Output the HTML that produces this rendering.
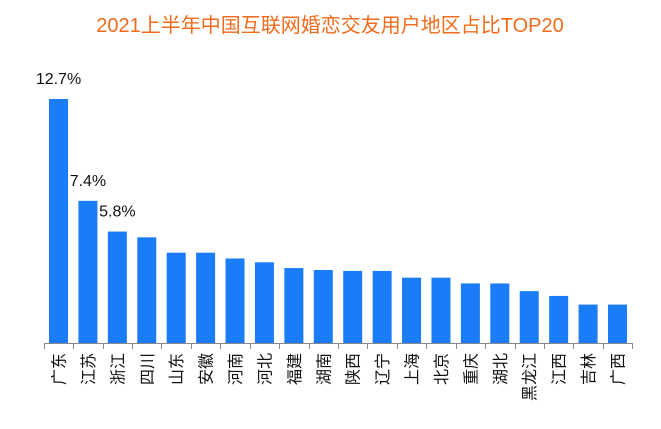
<!DOCTYPE html>
<html><head><meta charset="utf-8">
<style>
html,body{margin:0;padding:0;background:#fff;}
svg{display:block;font-family:"Liberation Sans","Noto Sans CJK SC",sans-serif;}
</style></head>
<body>
<svg id="chart" width="661" height="429" viewBox="0 0 661 429" xmlns="http://www.w3.org/2000/svg">
<text x="330" y="32" text-anchor="middle" font-size="20" fill="#f26b1d">2021上半年中国互联网婚恋交友用户地区占比TOP20</text>
<g id="bars"></g>
<g id="axis"></g>
</svg>
<script>
const categories = ["广东","江苏","浙江","四川","山东","安徽","河南","河北","福建","湖南","陕西","辽宁","上海","北京","重庆","湖北","黑龙江","江西","吉林","广西"];
const values = [12.7,7.4,5.8,5.5,4.7,4.7,4.4,4.2,3.9,3.8,3.75,3.75,3.4,3.4,3.1,3.1,2.7,2.45,2.0,2.0];
const labeled = ["12.7%","7.4%","5.8%"];
const NS="http://www.w3.org/2000/svg";
const baseY=343, pxPer=244/12.7, x0=43.8, step=29.42, bw=19;
const yScale=v=>baseY-v*pxPer;
const xCenter=i=>x0+step*(i+0.5);
const bars=document.getElementById('bars'), axis=document.getElementById('axis');
function mk(tag,attrs,parent){const e=document.createElementNS(NS,tag);for(const k in attrs)e.setAttribute(k,attrs[k]);parent.appendChild(e);return e;}
categories.forEach((c,i)=>{
  const y=yScale(values[i]);
  const r=mk('rect',{x:xCenter(i)-bw/2,y:y,width:bw,height:baseY-y,fill:'#1a7cf7'},bars);
  
  
  if(i<labeled.length){
    const t=mk('text',{x:xCenter(i),y:y-15,'text-anchor':'middle','font-size':'16',fill:'#111'},bars);
    t.textContent=labeled[i];
    
    
  }
  const lx=xCenter(i)+6, ly=353;
  const l=mk('text',{x:lx,y:ly,'text-anchor':'end','font-size':'16',fill:'#111',transform:`rotate(-90 ${lx} ${ly})`},axis);
  l.textContent=c;
  
  
});
const line=mk('line',{x1:x0,x2:x0+step*categories.length,y1:baseY+0.5,y2:baseY+0.5,stroke:'#888','stroke-width':1},axis);


for(let i=0;i<=categories.length;i++){
  const xx=Math.round(x0+step*i)+0.5;
  const tk=mk('line',{x1:xx,x2:xx,y1:baseY,y2:baseY+6,stroke:'#888','stroke-width':1},axis);
  
  
}
</script>
</body></html>
